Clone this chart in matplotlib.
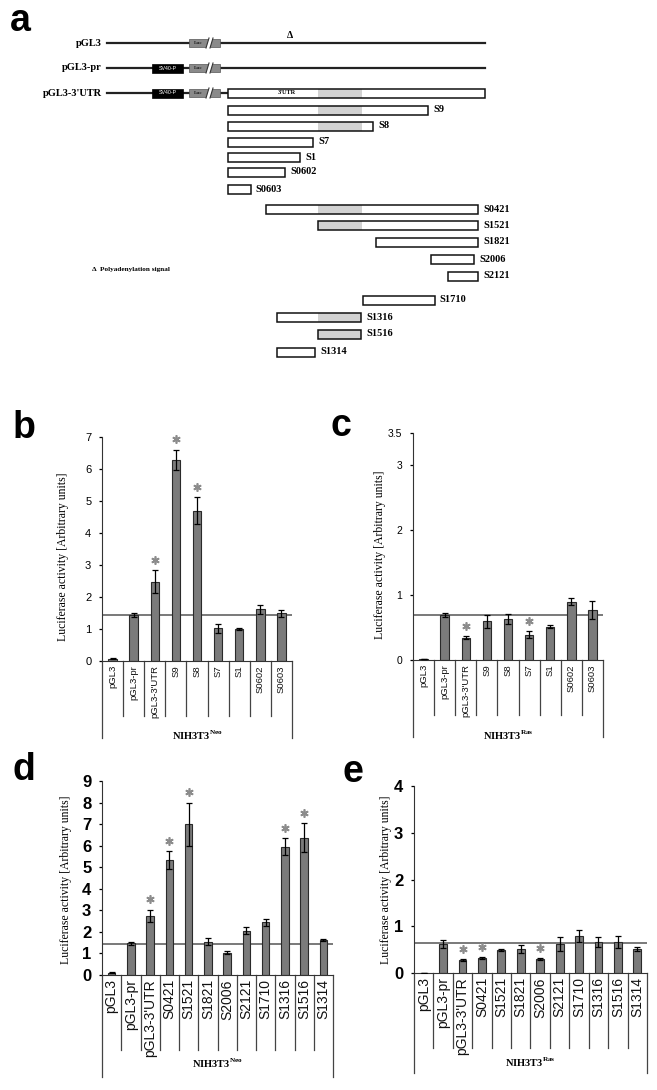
import numpy as np
import matplotlib
matplotlib.use('Agg')
import matplotlib.pyplot as plt
import matplotlib.transforms as mtransforms
from matplotlib.patches import Rectangle

plt.rcParams['font.family'] = 'Liberation Sans'
plt.rcParams['mathtext.fontset'] = 'custom'
plt.rcParams['mathtext.rm'] = 'Liberation Serif:bold'
plt.rcParams['mathtext.bf'] = 'Liberation Serif:bold'

W, H = 657, 1090

#%% data
# panel a: 3'UTR fragments, positions in % of the full 3'UTR
frag_names = ['S9', 'S8', 'S7', 'S1', 'S0602', 'S0603', 'S0421', 'S1521',
              'S1821', 'S2006', 'S2121', 'S1710', 'S1316', 'S1516', 'S1314']
frag_start = [0, 0, 0, 0, 0, 0, 14.8, 35.0, 57.6, 79.0, 85.6, 52.5, 19.1, 35.0, 19.1]
frag_end = [77.8, 56.4, 33.1, 28.0, 22.2, 8.9, 97.3, 97.3, 97.3, 95.7, 97.3, 80.5, 51.8, 51.8, 33.9]
shade_region = [35.0, 52.1]
constructs = ['pGL3', 'pGL3-pr', "pGL3-3'UTR"]

# panels b, c
cats_bc = ['pGL3', 'pGL3-pr', "pGL3-3'UTR", 'S9', 'S8', 'S7', 'S1', 'S0602', 'S0603']
neo_bc = [0.07, 1.44, 2.48, 6.28, 4.69, 1.02, 0.99, 1.61, 1.49]
neo_bc_err = [0.02, 0.07, 0.35, 0.32, 0.42, 0.15, 0.03, 0.15, 0.10]
neo_bc_sig = [0, 0, 1, 1, 1, 0, 0, 0, 0]
neo_bc_ref = 1.44
ras_bc = [0.01, 0.70, 0.345, 0.60, 0.63, 0.39, 0.515, 0.90, 0.77]
ras_bc_err = [0.0, 0.03, 0.02, 0.10, 0.08, 0.05, 0.02, 0.05, 0.14]
ras_bc_sig = [0, 0, 1, 0, 0, 1, 0, 0, 0]
ras_bc_ref = 0.70

# panels d, e
cats_de = ['pGL3', 'pGL3-pr', "pGL3-3'UTR", 'S0421', 'S1521', 'S1821', 'S2006',
           'S2121', 'S1710', 'S1316', 'S1516', 'S1314']
neo_de = [0.10, 1.47, 2.75, 5.33, 7.00, 1.55, 1.04, 2.06, 2.44, 5.95, 6.37, 1.62]
neo_de_err = [0.02, 0.07, 0.28, 0.40, 1.00, 0.15, 0.06, 0.15, 0.15, 0.40, 0.66, 0.05]
neo_de_sig = [0, 0, 1, 1, 1, 0, 0, 0, 0, 1, 1, 0]
neo_de_ref = 1.45
ras_de = [0.01, 0.62, 0.27, 0.32, 0.49, 0.51, 0.30, 0.61, 0.79, 0.66, 0.66, 0.51]
ras_de_err = [0.0, 0.09, 0.02, 0.02, 0.02, 0.08, 0.02, 0.15, 0.13, 0.10, 0.13, 0.05]
ras_de_sig = [0, 0, 1, 1, 0, 0, 1, 0, 0, 0, 0, 0]
ras_de_ref = 0.64

fig = plt.figure(figsize=(W / 100, H / 100), dpi=100)

#%% panel a (schematic, drawn in pixel units)
ax0 = fig.add_axes([0, 0, 1, 1])
ax0.set_xlim(0, W)
ax0.set_ylim(H, 0)
ax0.axis('off')

utr_x0, utr_x1 = 228, 485
def utr_px(u):
    return utr_x0 + u / 100 * (utr_x1 - utr_x0)

serif_b = dict(family='Liberation Serif', weight='bold')
row_y = [43, 68, 93]
box_h = 9

def luc(y):
    ax0.add_patch(Rectangle((189, y - 4), 31, 8, fc='#8a8a8a', ec='#555555', lw=0.5, zorder=3))
    ax0.text(198, y, 'Luc', fontsize=3.8, ha='center', va='center', color='#222222', zorder=4, **serif_b)
    ax0.add_patch(plt.Polygon([[206, y + 5], [209, y - 5], [213, y - 5], [210, y + 5]],
                              fc='white', ec='none', zorder=4))
    ax0.plot([206, 209], [y + 5, y - 5], color='#333333', lw=0.8, zorder=5)
    ax0.plot([210, 213], [y + 5, y - 5], color='#333333', lw=0.8, zorder=5)

def sv40(y):
    ax0.add_patch(Rectangle((152, y - 4.5), 31, 9, fc='black', ec='black', lw=0.5, zorder=3))
    ax0.text(167.5, y, 'SV40-P', fontsize=3.8, ha='center', va='center', color='white', zorder=4,
             family='Liberation Sans')

def utr_box(x0, x1, y):
    s0, s1 = max(x0, utr_px(shade_region[0])), min(x1, utr_px(shade_region[1]))
    ax0.add_patch(Rectangle((x0, y - box_h / 2), x1 - x0, box_h, fc='white', ec='none', zorder=2))
    if s1 > s0:
        ax0.add_patch(Rectangle((s0, y - box_h / 2), s1 - s0, box_h, fc='#d2d2d2', ec='none', zorder=2))
    ax0.add_patch(Rectangle((x0, y - box_h / 2), x1 - x0, box_h, fc='none', ec='#111111', lw=1.1, zorder=3))

# construct rows
ax0.plot([107, 485], [row_y[0], row_y[0]], color='#222222', lw=1.6, zorder=1)
ax0.plot([107, 485], [row_y[1], row_y[1]], color='#222222', lw=1.6, zorder=1)
ax0.plot([107, utr_x0], [row_y[2], row_y[2]], color='#222222', lw=1.6, zorder=1)
luc(row_y[0])
luc(row_y[1]); sv40(row_y[1])
luc(row_y[2]); sv40(row_y[2])
utr_box(utr_x0, utr_x1, row_y[2])
ax0.text(287, row_y[2], "3'UTR", fontsize=4.5, ha='center', va='center', zorder=4, **serif_b)
ax0.text(290, 36, '\u0394', fontsize=7, ha='center', va='center', **serif_b)
for name, y in zip(constructs, row_y):
    ax0.text(102, y, name, fontsize=7.5, ha='right', va='center', **serif_b)

frag_y = [110, 126, 142, 157, 172, 189, 209, 225, 242, 259, 276, 300, 317, 334, 352]
for name, s, e, y in zip(frag_names, frag_start, frag_end, frag_y):
    utr_box(utr_px(s), utr_px(e), y)
    ax0.text(utr_px(e) + 5, y, name, fontsize=7.5, ha='left', va='center', **serif_b)

ax0.text(92, 269, '\u0394  Polyadenylation signal', fontsize=5.2, ha='left', va='center', **serif_b)

#%% bar panels
def px_axes(left, top, right, bottom):
    return fig.add_axes([left / W, 1 - bottom / H, (right - left) / W, (bottom - top) / H])

def bar_panel(box, cats, vals, errs, sig, ref, ymax, yticks, yticklabels, tick_fs, tick_w,
              cat_fs, inner_px, outer_px, group, group_y, ylab_xy):
    left, top, right, bottom = box
    ax = px_axes(left, top, right, bottom)
    ax.set_facecolor('none')
    n = len(cats)
    x = np.arange(n)
    ax.bar(x, vals, width=0.4, color='#7b7b7b', edgecolor='#2a2a2a', linewidth=0.8, zorder=2)
    ax.errorbar(x, vals, yerr=errs, fmt='none', ecolor='black', elinewidth=0.9,
                capsize=2.3, capthick=0.9, zorder=3)
    ax.axhline(ref, color='#555555', lw=1.1, zorder=1)
    star_tr = mtransforms.offset_copy(ax.transData, fig=fig, x=0, y=7.5, units='points')
    for i in range(n):
        if sig[i]:
            ax.plot(i, vals[i] + errs[i], marker=(6, 2, 0), ms=6, mew=1.2, color='#8c8c8c',
                    transform=star_tr, clip_on=False, zorder=4)
    ax.set_xlim(-0.5, n - 0.5)
    ax.set_ylim(0, ymax)
    ax.set_yticks(yticks)
    ax.set_yticklabels(yticklabels, fontsize=tick_fs, fontweight=tick_w)
    ax.tick_params(axis='y', direction='out', length=2.2, width=0.9, pad=5.5)
    ax.set_xticks([])
    for sp in ['top', 'right']:
        ax.spines[sp].set_visible(False)
    ax.spines['left'].set_color('#333333')
    ax.spines['bottom'].set_color('#333333')

    # category table under the axis
    ax_h = bottom - top
    trans = mtransforms.blended_transform_factory(ax.transData, ax.transAxes)
    for k in range(n + 1):
        d = outer_px if k in (0, n) else inner_px
        ax.plot([k - 0.5, k - 0.5], [0, -d / ax_h], transform=trans, clip_on=False,
                color='#444444', lw=0.9)
    lab_tr = mtransforms.offset_copy(trans, fig=fig, x=0, y=-3, units='points')
    for i, c in enumerate(cats):
        ax.text(i, 0, c, rotation=90, ha='center', va='top', fontsize=cat_fs,
                transform=lab_tr, color='#111111')
    fig.text((left + right) / 2 / W, 1 - group_y / H, group, ha='center', va='center',
             fontsize=7.5, **serif_b)
    fig.text(ylab_xy[0] / W, 1 - ylab_xy[1] / H, 'Luciferase activity [Arbitrary units]',
             rotation=90, ha='center', va='center', fontsize=8.5, family='Liberation Serif')
    return ax

bar_panel((102, 437, 292, 661), cats_bc, neo_bc, neo_bc_err, neo_bc_sig, neo_bc_ref, 7,
          range(8), [str(v) for v in range(8)], 8, 'normal', 6.8, 55, 77,
          r'NIH3T3$^{\rm Neo}$', 735, (63, 557))
bar_panel((413, 433, 603, 660), cats_bc, ras_bc, ras_bc_err, ras_bc_sig, ras_bc_ref, 3.5,
          [0, 1, 2, 3, 3.5], ['0', '1', '2', '3', '3.5'], 7.5, 'normal', 6.8, 55, 77,
          r'NIH3T3$^{\rm Ras}$', 735, (380, 555))
bar_panel((102, 781, 333, 975), cats_de, neo_de, neo_de_err, neo_de_sig, neo_de_ref, 9,
          range(10), [str(v) for v in range(10)], 12, 'bold', 10, 75, 102,
          r'NIH3T3$^{\rm Neo}$', 1063, (66, 880))
bar_panel((414, 786, 647, 973), cats_de, ras_de, ras_de_err, ras_de_sig, ras_de_ref, 4,
          range(5), [str(v) for v in range(5)], 12, 'bold', 10, 75, 100,
          r'NIH3T3$^{\rm Ras}$', 1062, (386, 880))

#%% panel letters
for letter, (lx, ly) in zip('abcde', [(10, 31), (13, 438), (331, 436), (13, 780), (343, 782)]):
    fig.text(lx / W, 1 - ly / H, letter, fontsize=27, fontweight='bold', ha='left', va='baseline')

fig.savefig('out.png', dpi=100)
